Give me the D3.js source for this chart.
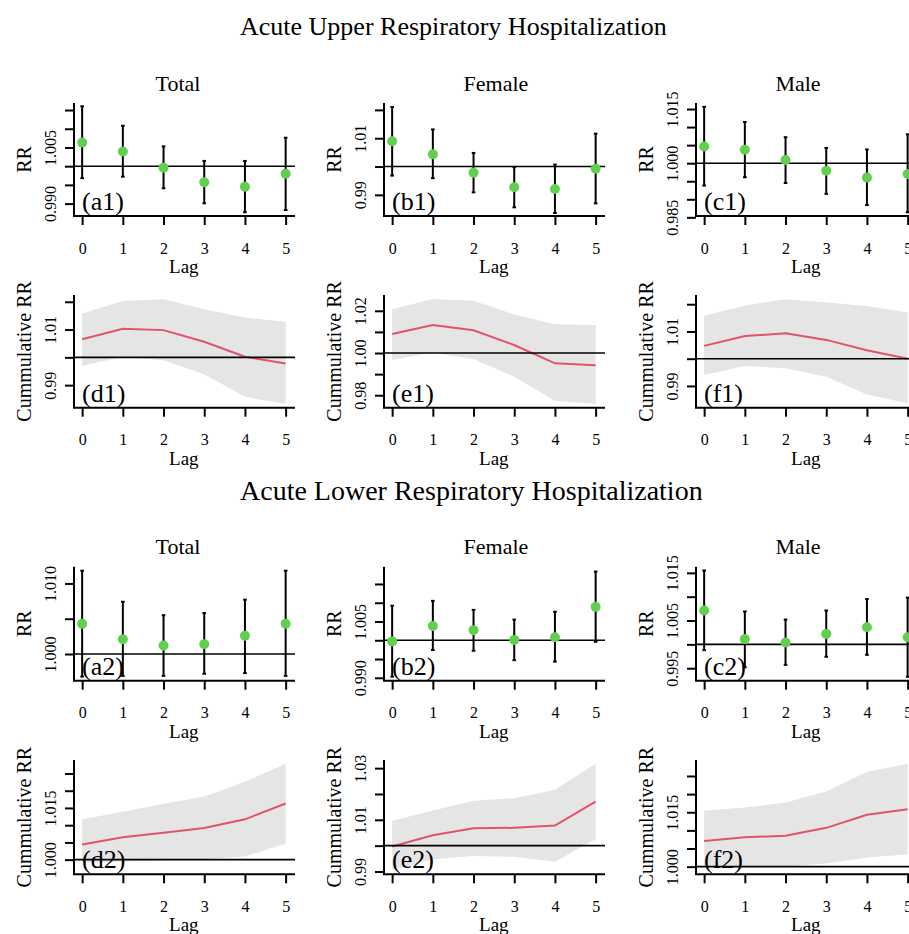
<!DOCTYPE html>
<html><head><meta charset="utf-8">
<script src="https://cdn.jsdelivr.net/npm/d3@7"></script>
<style>
html,body{margin:0;padding:0;background:#fff;}
svg{display:block;font-family:"Liberation Serif","Times New Roman",serif;}
</style></head>
<body><svg id="c" width="909" height="934"></svg>
<script>
// ---------------- data ----------------
const lags = [0, 1, 2, 3, 4, 5];
const groups = ["Total", "Female", "Male"];
const blockTitles = ["Acute Upper Respiratory Hospitalization", "Acute Lower Respiratory Hospitalization"];
const panelTags = [["(a1)","(b1)","(c1)"],["(d1)","(e1)","(f1)"],["(a2)","(b2)","(c2)"],["(d2)","(e2)","(f2)"]];

// Upper respiratory, lag-specific RR
const upTotalRR = [1.0063, 1.0039, 0.9996, 0.9957, 0.9945, 0.9980];
const upTotalLo = [0.9968, 0.9972, 0.9941, 0.9901, 0.9877, 0.9883];
const upTotalHi = [1.0160, 1.0108, 1.0053, 1.0014, 1.0014, 1.0076];
const upFemaleRR = [1.0089, 1.0043, 0.9978, 0.9927, 0.9921, 0.9992];
const upFemaleLo = [0.9968, 0.9959, 0.9909, 0.9856, 0.9836, 0.9870];
const upFemaleHi = [1.0210, 1.0131, 1.0048, 0.9998, 1.0007, 1.0116];
const upMaleRR = [1.0046, 1.0037, 1.0009, 0.9979, 0.9960, 0.9970];
const upMaleLo = [0.9938, 0.9961, 0.9945, 0.9915, 0.9884, 0.9864];
const upMaleHi = [1.0156, 1.0114, 1.0072, 1.0042, 1.0038, 1.0080];

// Upper respiratory, cumulative RR
const upTotalCum = [1.0065, 1.0103, 1.0098, 1.0056, 1.0002, 0.9978];
const upTotalCumLo = [0.9970, 1.0002, 0.9990, 0.9939, 0.9858, 0.9832];
const upTotalCumHi = [1.0158, 1.0203, 1.0209, 1.0173, 1.0143, 1.0128];
const upFemaleCum = [1.0090, 1.0133, 1.0108, 1.0038, 0.9951, 0.9942];
const upFemaleCumLo = [0.9967, 1.0002, 0.9970, 0.9888, 0.9774, 0.9758];
const upFemaleCumHi = [1.0207, 1.0256, 1.0248, 1.0183, 1.0136, 1.0133];
const upMaleCum = [1.0047, 1.0083, 1.0093, 1.0069, 1.0031, 1.0000];
const upMaleCumLo = [0.9940, 0.9973, 0.9965, 0.9934, 0.9869, 0.9836];
const upMaleCumHi = [1.0158, 1.0195, 1.0218, 1.0206, 1.0193, 1.0170];

// Lower respiratory, lag-specific RR
const lowTotalRR = [1.0043, 1.0021, 1.0012, 1.0014, 1.0026, 1.0043];
const lowTotalLo = [0.9968, 0.9969, 0.9969, 0.9972, 0.9973, 0.9969];
const lowTotalHi = [1.0118, 1.0074, 1.0055, 1.0058, 1.0077, 1.0118];
const lowFemaleRR = [0.9997, 1.0038, 1.0027, 1.0001, 1.0008, 1.0089];
const lowFemaleLo = [0.9903, 0.9974, 0.9972, 0.9947, 0.9943, 0.9996];
const lowFemaleHi = [1.0092, 1.0105, 1.0081, 1.0055, 1.0076, 1.0183];
const lowMaleRR = [1.0071, 1.0011, 1.0004, 1.0022, 1.0036, 1.0015];
const lowMaleLo = [0.9988, 0.9952, 0.9957, 0.9974, 0.9978, 0.9932];
const lowMaleHi = [1.0155, 1.0069, 1.0052, 1.0071, 1.0095, 1.0098];

// Lower respiratory, cumulative RR
const lowTotalCum = [1.0044, 1.0065, 1.0078, 1.0092, 1.0117, 1.0163];
const lowTotalCumLo = [0.9991, 0.9994, 0.9998, 1.0002, 1.0009, 1.0047];
const lowTotalCumHi = [1.0117, 1.0139, 1.0162, 1.0183, 1.0226, 1.0278];
const lowFemaleCum = [0.9997, 1.0040, 1.0067, 1.0069, 1.0078, 1.0170];
const lowFemaleCumLo = [0.9906, 0.9947, 0.9960, 0.9957, 0.9938, 1.0025];
const lowFemaleCumHi = [1.0096, 1.0136, 1.0174, 1.0183, 1.0216, 1.0317];
const lowMaleCum = [1.0071, 1.0081, 1.0085, 1.0107, 1.0143, 1.0158];
const lowMaleCumLo = [1.0000, 0.9998, 1.0000, 1.0009, 1.0025, 1.0034];
const lowMaleCumHi = [1.0154, 1.0163, 1.0177, 1.0207, 1.0262, 1.0283];

// axis limits (ylim) per row x column
const yLims = [
  [[0.98669, 1.01688], [0.98254, 1.02243], [0.98537, 1.01667]],
  [[0.98188, 1.02244], [0.97409, 1.02749], [0.98201, 1.02338]],
  [[0.99622, 1.01237], [0.98923, 1.01960], [0.99238, 1.01629]],
  [[0.99575, 1.02891], [0.98891, 1.03315], [0.99789, 1.02941]]
];
// tick values and labelled tick values
const yTicks = [
  [[0.990,0.995,1.000,1.005,1.010,1.015],[0.99,1.00,1.01,1.02],[0.985,0.990,0.995,1.000,1.005,1.010,1.015]],
  [[0.99,1.00,1.01,1.02],[0.98,0.99,1.00,1.01,1.02],[0.99,1.00,1.01,1.02]],
  [[1.000,1.005,1.010],[0.990,0.995,1.000,1.005,1.010,1.015],[0.995,1.000,1.005,1.010,1.015]],
  [[1.000,1.005,1.010,1.015,1.020,1.025],[0.99,1.00,1.01,1.02,1.03],[1.000,1.005,1.010,1.015,1.020,1.025]]
];
const yLabels = [
  [["0.990","1.005"],["0.99","1.01"],["0.985","1.000","1.015"]],
  [["0.99","1.01"],["0.98","1.00","1.02"],["0.99","1.01"]],
  [["1.000","1.010"],["0.990","1.005"],["0.995","1.005","1.015"]],
  [["1.000","1.015"],["0.99","1.01","1.03"],["1.000","1.015"]]
];

const rrSeries = [
  [[upTotalRR, upTotalLo, upTotalHi], [upFemaleRR, upFemaleLo, upFemaleHi], [upMaleRR, upMaleLo, upMaleHi]],
  [[lowTotalRR, lowTotalLo, lowTotalHi], [lowFemaleRR, lowFemaleLo, lowFemaleHi], [lowMaleRR, lowMaleLo, lowMaleHi]]
];
const cumSeries = [
  [[upTotalCum, upTotalCumLo, upTotalCumHi], [upFemaleCum, upFemaleCumLo, upFemaleCumHi], [upMaleCum, upMaleCumLo, upMaleCumHi]],
  [[lowTotalCum, lowTotalCumLo, lowTotalCumHi], [lowFemaleCum, lowFemaleCumLo, lowFemaleCumHi], [lowMaleCum, lowMaleCumLo, lowMaleCumHi]]
];

// ---------------- layout ----------------
const svg = d3.select("#c");
const colX = [74, 384, 696];
const plotW = 221;
const rows = [{top:103, bottom:216}, {top:295, bottom:407.7}, {top:566.7, bottom:680.7}, {top:760, bottom:874.3}];
const titleX = [178, 496, 798];
const GREEN = "#61D04F", RED = "#DF536B", BAND = "#E5E5E5";

svg.append("text").attr("x", 240).attr("y", 35).attr("font-size", 26).text(blockTitles[0]);
svg.append("text").attr("x", 240).attr("y", 500).attr("font-size", 28).text(blockTitles[1]);

function drawPanel(r, c) {
  const L = rows[r], ax = colX[c];
  const g = svg.append("g");
  const x = d3.scaleLinear().domain([-0.2, 5.2]).range([ax, ax + plotW * 5.4 / 5.43]);
  const y = d3.scaleLinear().domain(yLims[r][c]).range([L.bottom, L.top]);
  const isCum = (r % 2 === 1);
  const block = Math.floor(r / 2);

  if (isCum) {
    const [fit, lo, hi] = cumSeries[block][c];
    const area = d3.area().x((d, i) => x(lags[i])).y0((d, i) => y(lo[i])).y1((d, i) => y(hi[i]));
    g.append("path").datum(fit).attr("d", area).attr("fill", BAND);
    g.append("path").datum(fit)
      .attr("d", d3.line().x((d, i) => x(lags[i])).y(d => y(d)))
      .attr("fill", "none").attr("stroke", RED).attr("stroke-width", 2);
    g.append("line").attr("x1", ax).attr("x2", ax + plotW).attr("y1", y(1)).attr("y2", y(1))
      .attr("stroke", "#000").attr("stroke-width", 1.6);
  } else {
    const [est, lo, hi] = rrSeries[block][c];
    g.append("line").attr("x1", ax).attr("x2", ax + plotW).attr("y1", y(1)).attr("y2", y(1))
      .attr("stroke", "#000").attr("stroke-width", 1.6);
    g.selectAll(".eb").data(lags).enter().append("line")
      .attr("x1", d => x(d)).attr("x2", d => x(d))
      .attr("y1", (d, i) => y(lo[i])).attr("y2", (d, i) => y(hi[i]))
      .attr("stroke", "#000").attr("stroke-width", 2);
    [lo, hi].forEach(arr => {
      g.selectAll(null).data(lags).enter().append("line")
        .attr("x1", d => x(d) - 1.8).attr("x2", d => x(d) + 1.8)
        .attr("y1", (d, i) => y(arr[i])).attr("y2", (d, i) => y(arr[i]))
        .attr("stroke", "#000").attr("stroke-width", 2);
    });
    g.selectAll(".pt").data(lags).enter().append("circle")
      .attr("cx", d => x(d)).attr("cy", (d, i) => y(est[i])).attr("r", 5)
      .attr("fill", GREEN);
  }

  // L-shaped box
  g.append("line").attr("x1", ax).attr("x2", ax).attr("y1", L.top).attr("y2", L.bottom)
    .attr("stroke", "#000").attr("stroke-width", 2);
  g.append("line").attr("x1", ax - 1).attr("x2", ax + plotW).attr("y1", L.bottom).attr("y2", L.bottom)
    .attr("stroke", "#000").attr("stroke-width", 2);

  // y axis
  const labs = yLabels[r][c];
  const fmt = v => {
    const s3 = v.toFixed(3), s2 = v.toFixed(2);
    if (labs.includes(s3)) return s3;
    if (labs.includes(s2)) return s2;
    return "";
  };
  const ya = g.append("g").attr("transform", `translate(${ax},0)`)
    .call(d3.axisLeft(y).tickValues(yTicks[r][c]).tickFormat(fmt).tickSize(9).tickSizeOuter(0));
  ya.select(".domain").remove();
  ya.selectAll(".tick line").attr("stroke", "#000").attr("stroke-width", 2);
  ya.selectAll(".tick text").attr("x", null).attr("dy", null)
    .attr("transform", "translate(-18.5,0) rotate(-90)")
    .attr("text-anchor", "middle").attr("font-size", 16).attr("fill", "#000")
    .attr("font-family", "Liberation Serif");

  // x axis
  const xa = g.append("g").attr("transform", `translate(0,${L.bottom})`)
    .call(d3.axisBottom(x).tickValues(lags).tickFormat(d3.format("d")).tickSize(9).tickSizeOuter(0));
  xa.select(".domain").remove();
  xa.selectAll(".tick line").attr("stroke", "#000").attr("stroke-width", 2);
  xa.selectAll(".tick text").attr("y", 37.5).attr("dy", null)
    .attr("font-size", 16).attr("fill", "#000").attr("font-family", "Liberation Serif");

  // axis titles
  g.append("text").attr("x", (ax + x(5)) / 2 + 4).attr("y", L.bottom + 57)
    .attr("text-anchor", "middle").attr("font-size", 19).text("Lag");
  g.append("text").attr("transform", `translate(${ax - 43},${(L.top + L.bottom) / 2}) rotate(-90)`)
    .attr("text-anchor", "middle").attr("font-size", 20).text(isCum ? "Cummulative RR" : "RR");

  // panel tag
  g.append("text").attr("x", ax + 8).attr("y", L.bottom - 6).attr("font-size", 26).text(panelTags[r][c]);

  if (!isCum) {
    g.append("text").attr("x", titleX[c]).attr("y", L.top - 12.5)
      .attr("text-anchor", "middle").attr("font-size", 22).text(groups[c]);
  }
}

for (let r = 0; r < 4; r++) for (let c = 0; c < 3; c++) drawPanel(r, c);
</script></body></html>
